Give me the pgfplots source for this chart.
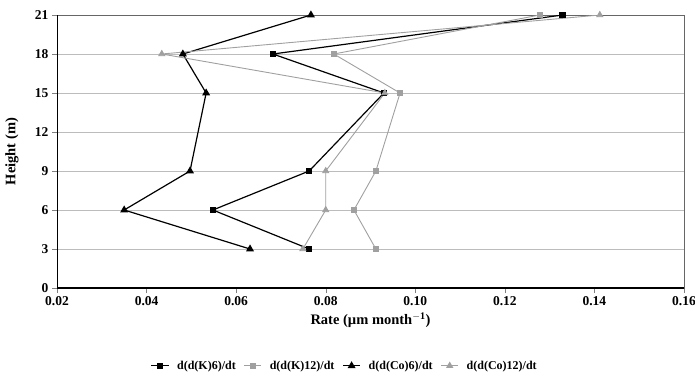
\documentclass[border=0pt]{standalone}
\usepackage{fontspec}
\setmainfont{Liberation Serif}
\usepackage{pgfplots}
\pgfplotsset{compat=1.18}
\definecolor{sgray}{RGB}{160,160,160}
\begin{document}
\begin{tikzpicture}[x=1pt,y=1pt]
\useasboundingbox (0,0) rectangle (695,373);
\begin{axis}[
  at={(57pt,85pt)}, anchor=south west,
  scale only axis, width=627pt, height=273pt,
  xmin=0.02, xmax=0.16, ymin=0, ymax=21,
  xtick={0.02,0.04,0.06,0.08,0.10,0.12,0.14,0.16},
  ytick={0,3,6,9,12,15,18,21},
  xticklabel style={/pgf/number format/.cd,fixed,fixed zerofill,precision=2},
  /pgf/number format/assume math mode=true,
  tick label style={font=\fontsize{13.5}{15}\selectfont\bfseries},
  tick align=outside, tick pos=left,
  major tick length=5pt,
  ymajorgrids, grid style={sgray!70, line width=0.8pt},
  axis line style={draw=black!60, line width=0.8pt},
  xlabel={Rate (µm month$^{\mathbf{-1}}$)},
  ylabel={Height (m)},
  label style={font=\fontsize{14.5}{16}\selectfont\bfseries},
  xlabel style={at={(axis description cs:0.5,-0.117)}, anchor=center},
  ylabel style={at={(axis description cs:-0.072,0.5)}, anchor=center},
  legend style={at={(0.459,-0.285)}, anchor=center, draw=none, fill=none,
    font=\fontsize{12}{14}\selectfont\bfseries, legend columns=4,
    column sep=6pt},
  legend cell align=left,
]
\addplot[black, line width=1.2pt, mark=square*, mark size=2.6pt, mark options={solid}]
  coordinates {(0.0763,3) (0.0548,6) (0.0763,9) (0.0930,15) (0.0682,18) (0.1329,21)};
\addlegendentry{d(d(K)6)/dt}
\addplot[sgray, line width=0.9pt, mark=square*, mark size=2.6pt]
  coordinates {(0.0912,3) (0.0863,6) (0.0912,9) (0.0966,15) (0.0818,18) (0.1278,21)};
\addlegendentry{d(d(K)12)/dt}
\addplot[black, line width=1.2pt, mark=triangle*, mark size=3.4pt]
  coordinates {(0.0631,3) (0.0350,6) (0.0497,9) (0.0533,15) (0.0481,18) (0.0767,21)};
\addlegendentry{d(d(Co)6)/dt}
\addplot[sgray, line width=0.9pt, mark=triangle*, mark size=3.4pt]
  coordinates {(0.0749,3) (0.0800,6) (0.0800,9) (0.0932,15) (0.0434,18) (0.1412,21)};
\addlegendentry{d(d(Co)12)/dt}
\draw[black, line width=1.6pt] (rel axis cs:0,1) -- (rel axis cs:0,0) -- (rel axis cs:1,0);
\end{axis}
\end{tikzpicture}
\end{document}
